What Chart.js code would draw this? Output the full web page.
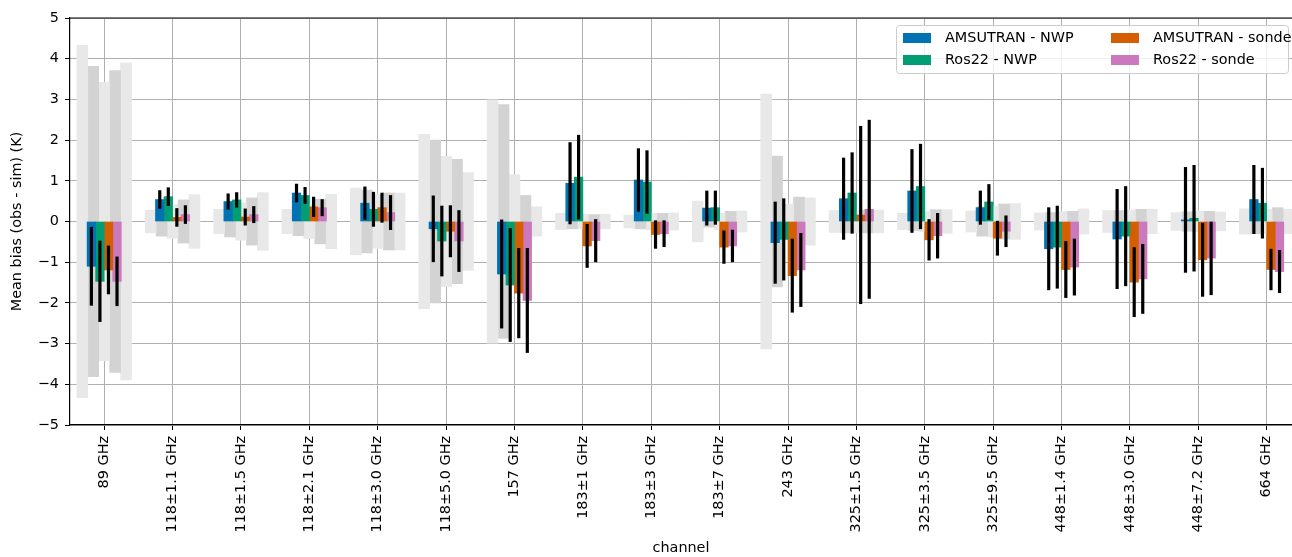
<!DOCTYPE html>
<html>
<head>
<meta charset="utf-8">
<script src="https://cdn.jsdelivr.net/npm/chart.js@4.4.1/dist/chart.umd.min.js"></script>
<style>
  html, body { margin: 0; padding: 0; background: #fff; }
</style>
</head>
<body>
<canvas id="grafica-sesgo" width="1292" height="557"></canvas>
<script>
// Canales
const canales = ['89 GHz', '118±1.1 GHz', '118±1.5 GHz', '118±2.1 GHz', '118±3.0 GHz', '118±5.0 GHz',
  '157 GHz', '183±1 GHz', '183±3 GHz', '183±7 GHz', '243 GHz', '325±1.5 GHz', '325±3.5 GHz',
  '325±9.5 GHz', '448±1.4 GHz', '448±3.0 GHz', '448±7.2 GHz', '664 GHz'];

// Sesgo medio (obs - sim) en K
const sesgoAmsutranNwp = [-1.10, 0.54, 0.49, 0.70, 0.45, -0.18, -1.29, 0.94, 1.02, 0.33, -0.52, 0.56, 0.75, 0.34, -0.67, -0.43, 0.04, 0.54];
const sesgoRos22Nwp = [-1.47, 0.61, 0.53, 0.64, 0.30, -0.48, -1.56, 1.09, 0.97, 0.34, -0.44, 0.70, 0.86, 0.48, -0.63, -0.36, 0.08, 0.45];
const sesgoAmsutranSonde = [-1.19, 0.10, 0.11, 0.36, 0.34, -0.24, -1.76, -0.60, -0.32, -0.63, -1.33, 0.16, -0.45, -0.41, -1.18, -1.49, -0.94, -1.18];
const sesgoRos22Sonde = [-1.47, 0.17, 0.17, 0.34, 0.22, -0.48, -1.94, -0.47, -0.30, -0.60, -1.19, 0.30, -0.35, -0.24, -1.12, -1.41, -0.90, -1.23];

// Barras de error (semiancho)
const errAmsutranNwp = [0.96, 0.22, 0.19, 0.22, 0.40, 0.81, 1.33, 1.00, 0.77, 0.42, 1.00, 1.00, 1.02, 0.41, 1.01, 1.22, 1.29, 0.84];
const errRos22Nwp = [0.99, 0.22, 0.18, 0.20, 0.42, 0.86, 1.39, 1.03, 0.77, 0.41, 1.00, 0.99, 1.04, 0.43, 1.01, 1.22, 1.30, 0.86];
const errAmsutranSonde = [0.59, 0.22, 0.20, 0.24, 0.36, 0.63, 1.10, 0.53, 0.34, 0.40, 0.90, 2.18, 0.50, 0.42, 0.69, 0.85, 0.90, 0.50];
const errRos22Sonde = [0.60, 0.22, 0.20, 0.20, 0.42, 0.75, 1.28, 0.52, 0.32, 0.39, 0.90, 2.19, 0.55, 0.38, 0.69, 0.85, 0.90, 0.52];

// Bandas grises (simétricas alrededor de cero)
const banda1 = [4.33, 0.28, 0.30, 0.30, 0.82, 2.14, 2.99, 0.20, 0.16, 0.50, 3.13, 0.27, 0.20, 0.26, 0.21, 0.27, 0.22, 0.31];
const banda2 = [3.81, 0.36, 0.38, 0.35, 0.77, 2.00, 2.87, 0.18, 0.18, 0.14, 1.61, 0.28, 0.22, 0.36, 0.22, 0.27, 0.24, 0.30];
const banda3 = [3.42, 0.41, 0.46, 0.42, 0.66, 1.60, 1.15, 0.18, 0.20, 0.20, 0.43, 0.28, 0.25, 0.38, 0.24, 0.28, 0.25, 0.30];
const banda4 = [3.71, 0.53, 0.58, 0.55, 0.70, 1.53, 0.64, 0.17, 0.20, 0.25, 0.60, 0.28, 0.29, 0.43, 0.25, 0.30, 0.25, 0.34];
const banda5 = [3.89, 0.66, 0.71, 0.67, 0.70, 1.20, 0.36, 0.18, 0.21, 0.26, 0.58, 0.28, 0.29, 0.44, 0.31, 0.30, 0.23, 0.30];

const ticksY = [-5, -4, -3, -2, -1, 0, 1, 2, 3, 4, 5];

const series = [
  { label: 'AMSUTRAN - NWP', valores: sesgoAmsutranNwp, err: errAmsutranNwp, color: '#0173b2' },
  { label: 'Ros22 - NWP', valores: sesgoRos22Nwp, err: errRos22Nwp, color: '#029e73' },
  { label: 'AMSUTRAN - sonde', valores: sesgoAmsutranSonde, err: errAmsutranSonde, color: '#d55e00' },
  { label: 'Ros22 - sonde', valores: sesgoRos22Sonde, err: errRos22Sonde, color: '#cc78bc' }
];
const bandas = [banda1, banda2, banda3, banda4, banda5];
const grisesBanda = ['#e8e8e8', '#d3d3d3', '#e8e8e8', '#d3d3d3', '#e8e8e8'];

// anchos en unidades de canal (como width= en matplotlib)
const ANCHO_SERIE = 0.125, ANCHO_BANDA = 0.16, ANCHO_ERROR = 0.037;

const fuente = "'DejaVu Sans', sans-serif";
Chart.defaults.font.family = fuente;
Chart.defaults.font.size = 14.4;
Chart.defaults.color = '#000';

const X_MIN = -0.5, X_MAX = 17.37;

// Grosor de barra en píxeles a partir de la escala x
const anchoBarras = {
  id: 'anchoBarras',
  afterLayout(chart) {
    const x = chart.scales.x;
    const unidad = x.getPixelForValue(1) - x.getPixelForValue(0);
    chart.data.datasets.forEach(ds => { ds.barThickness = ds.anchoUnidades * unidad; });
  }
};

// Barras de error encima de la rejilla y leyenda dentro del área
const capaSuperior = {
  id: 'capaSuperior',
  beforeDatasetDraw(chart, args) {
    if (chart.data.datasets[args.index].esError) return false;
  },
  afterDraw(chart) {
    const ctx = chart.ctx;
    const area = chart.chartArea;

    ctx.save();
    ctx.strokeStyle = '#000';
    ctx.lineWidth = 1.2;
    ctx.beginPath();
    ctx.moveTo(area.left, area.top);
    ctx.lineTo(area.right, area.top);
    ctx.stroke();
    ctx.restore();

    chart.data.datasets.forEach((ds, i) => {
      if (ds.esError) chart.getDatasetMeta(i).controller.draw();
    });

    const items = chart.data.datasets.filter(d => d.enLeyenda);
    const right = area.right - 4, top = area.top + 7;
    const left = right - 392, alto = 48;
    ctx.save();
    ctx.fillStyle = 'rgba(255,255,255,0.8)';
    ctx.strokeStyle = '#cccccc';
    ctx.lineWidth = 1;
    ctx.beginPath();
    ctx.roundRect(left + 0.5, top + 0.5, right - left, alto, 3);
    ctx.fill();
    ctx.stroke();
    ctx.font = '14.4px ' + fuente;
    ctx.textBaseline = 'middle';
    items.forEach((d, k) => {
      const col = Math.floor(k / 2), fila = k % 2;
      const x0 = left + 7 + col * 208, yc = top + 13 + fila * 22;
      ctx.fillStyle = d.backgroundColor;
      ctx.fillRect(x0, yc - 5, 28, 10);
      ctx.fillStyle = '#000';
      ctx.fillText(d.label, x0 + 42, yc);
    });
    ctx.restore();
  }
};

// Agrupación a mano: cada serie desplazada dentro del canal
const datasets = [];
series.forEach((s, k) => {
  const desp = (k - (series.length - 1) / 2) * ANCHO_SERIE;
  datasets.push({
    label: s.label + ' err',
    esError: true,
    anchoUnidades: ANCHO_ERROR,
    data: s.valores.map((v, i) => ({ x: i + desp, y: [v - s.err[i], v + s.err[i]] })),
    backgroundColor: '#000'
  });
});
series.forEach((s, k) => {
  const desp = (k - (series.length - 1) / 2) * ANCHO_SERIE;
  datasets.push({
    label: s.label,
    enLeyenda: true,
    anchoUnidades: ANCHO_SERIE,
    data: s.valores.map((v, i) => ({ x: i + desp, y: v })),
    backgroundColor: s.color
  });
});
bandas.forEach((b, k) => {
  const desp = (k - (bandas.length - 1) / 2) * ANCHO_BANDA;
  datasets.push({
    label: 'banda ' + (k + 1),
    anchoUnidades: ANCHO_BANDA,
    data: b.map((h, i) => ({ x: i + desp, y: [-h, h] })),
    backgroundColor: grisesBanda[k]
  });
});

new Chart(document.getElementById('grafica-sesgo').getContext('2d'), {
  type: 'bar',
  data: { datasets },
  plugins: [anchoBarras, capaSuperior],
  options: {
    responsive: false,
    animation: false,
    events: [],
    grouped: false,
    layout: { padding: { top: 18, right: 0, bottom: 0, left: 0 } },
    plugins: { legend: { display: false }, tooltip: { enabled: false } },
    scales: {
      x: {
        type: 'linear', position: 'bottom', z: 1,
        offset: false,
        min: X_MIN, max: X_MAX,
        afterBuildTicks: s => { s.ticks = canales.map((c, i) => ({ value: i })); },
        afterFit: s => { s.height = 132; },
        grid: { offset: false, color: '#b0b0b0', lineWidth: 1, tickColor: '#000', tickLength: 5 },
        border: { color: '#000', width: 1.2 },
        ticks: {
          autoSkip: false, maxRotation: 90, minRotation: 90, padding: 6,
          callback: v => canales[v]
        },
        title: { display: true, text: 'channel', padding: { top: 0, bottom: 0 } }
      },
      y: {
        min: -5, max: 5, z: 1,
        afterBuildTicks: s => { s.ticks = ticksY.map(v => ({ value: v })); },
        afterFit: s => { s.width = 70; },
        grid: { color: '#b0b0b0', lineWidth: 1, tickColor: '#000', tickLength: 5 },
        border: { color: '#000', width: 1.2 },
        ticks: {
          padding: 6,
          callback: v => v < 0 ? '\u2212' + Math.abs(v) : String(v)
        },
        title: { display: true, text: 'Mean bias (obs - sim) (K)', padding: { top: 9, bottom: 0 } }
      }
    }
  }
});
</script>
</body>
</html>
